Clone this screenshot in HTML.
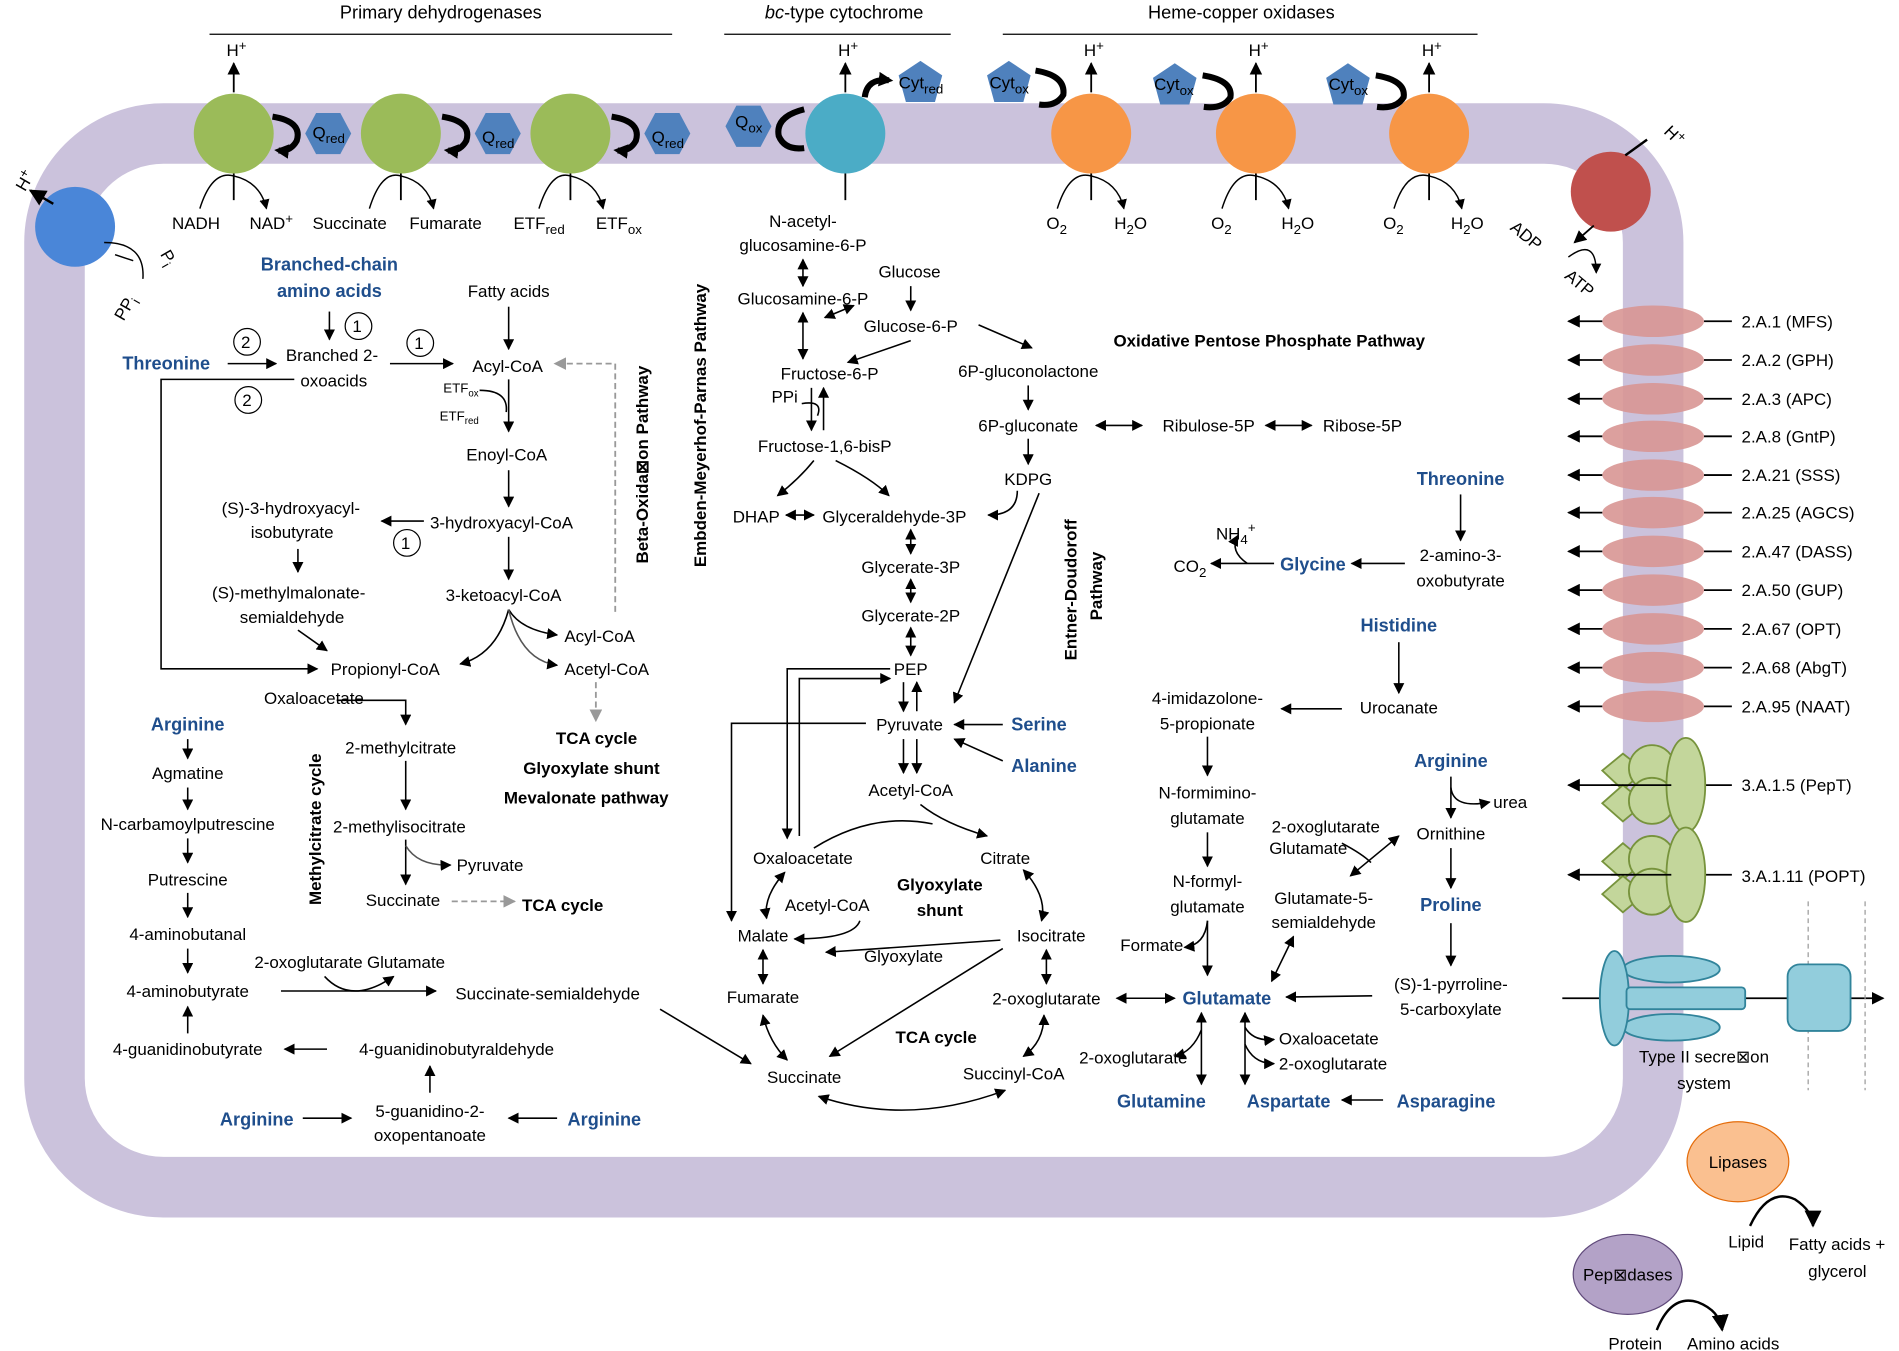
<!DOCTYPE html>
<html><head><meta charset="utf-8"><style>
html,body{margin:0;padding:0;background:#fff}
svg{display:block}
text{font-family:"Liberation Sans",sans-serif;font-size:14px;fill:#000}
.b{font-weight:bold}
.bl{fill:#1f4e8c;font-weight:bold;font-size:15px}
.s{font-size:11px}
.t{font-size:15px}
</style></head><body>
<svg width="1899" height="1351" viewBox="0 0 1568 1115" xmlns="http://www.w3.org/2000/svg">
<defs>
<marker id="a" viewBox="0 0 10 10" refX="9" refY="5" markerWidth="7" markerHeight="7" orient="auto-start-reverse"><path d="M0,0L10,5L0,10z" fill="#000"/></marker>
<marker id="ta" viewBox="0 0 10 10" refX="7" refY="5" markerUnits="userSpaceOnUse" markerWidth="12" markerHeight="12" orient="auto-start-reverse"><path d="M0,0L10,5L0,10z" fill="#000"/></marker>
<marker id="g" viewBox="0 0 10 10" refX="9" refY="5" markerWidth="7" markerHeight="7" orient="auto-start-reverse"><path d="M0,0L10,5L0,10z" fill="#999"/></marker>
</defs>
<!-- membrane -->
<rect x="45" y="110" width="1320" height="870" rx="90" fill="none" stroke="#cbc2dc" stroke-width="50"/>
<!-- header lines -->
<g stroke="#000" stroke-width="1"><line x1="173" y1="28" x2="555" y2="28"/><line x1="598" y1="28" x2="785" y2="28"/><line x1="828" y1="28" x2="1220" y2="28"/></g>
<text x="364" y="15" text-anchor="middle" class="t">Primary dehydrogenases</text>
<text x="697" y="15" text-anchor="middle" class="t"><tspan font-style="italic">bc</tspan>-type cytochrome</text>
<text x="1025" y="15" text-anchor="middle" class="t">Heme-copper oxidases</text>
<g fill="#000" stroke="#000" stroke-width="1.5">
<line x1="193" y1="76" x2="193" y2="52" marker-end="url(#a)"/>
<line x1="698" y1="76" x2="698" y2="52" marker-end="url(#a)"/>
<line x1="901" y1="76" x2="901" y2="52" marker-end="url(#a)"/>
<line x1="1037" y1="76" x2="1037" y2="52" marker-end="url(#a)"/>
<line x1="1180" y1="76" x2="1180" y2="52" marker-end="url(#a)"/>
<line x1="193" y1="143" x2="193" y2="165"/><line x1="331" y1="143" x2="331" y2="165"/><line x1="471" y1="143" x2="471" y2="165"/>
<line x1="698" y1="143" x2="698" y2="165"/><line x1="901" y1="143" x2="901" y2="165"/><line x1="1037" y1="143" x2="1037" y2="165"/><line x1="1180" y1="143" x2="1180" y2="165"/>
</g>
<!-- enzymes -->
<circle cx="193" cy="110" r="33" fill="#9bbb59"/><circle cx="331" cy="110" r="33" fill="#9bbb59"/><circle cx="471" cy="110" r="33" fill="#9bbb59"/>
<circle cx="698" cy="110" r="33" fill="#4bacc6"/>
<circle cx="901" cy="110" r="33" fill="#f79646"/><circle cx="1037" cy="110" r="33" fill="#f79646"/><circle cx="1180" cy="110" r="33" fill="#f79646"/>
<circle cx="1330" cy="158" r="33" fill="#c0504d"/><line x1="1342" y1="128" x2="1360" y2="115" stroke="#000" stroke-width="2"/>
<circle cx="62" cy="187" r="33" fill="#4a86d8"/>
<g fill="#4f81bd">
<polygon points="252,110 261,93 281,93 290,110 281,127 261,127"/>
<polygon points="392,110 401,93 421,93 430,110 421,127 401,127"/>
<polygon points="532,110 541,93 561,93 570,110 561,127 541,127"/>
<polygon points="599,104 608,87 628,87 637,104 628,121 608,121"/>
<polygon points="760,50 778,62 772,84 748,84 742,62"/>
<polygon points="833,50 851,62 845,84 821,84 815,62"/>
<polygon points="970,52 988,64 982,86 958,86 952,64"/>
<polygon points="1113,52 1131,64 1125,86 1101,86 1095,64"/>
</g>
<g font-size="13"><text x="258" y="114">Q<tspan class="s" dy="4">red</tspan></text><text x="398" y="118">Q<tspan class="s" dy="4">red</tspan></text><text x="538" y="118">Q<tspan class="s" dy="4">red</tspan></text><text x="607" y="105">Q<tspan class="s" dy="4">ox</tspan></text>
<text x="742" y="73">Cyt<tspan class="s" dy="4">red</tspan></text><text x="817" y="73">Cyt<tspan class="s" dy="4">ox</tspan></text><text x="953" y="74">Cyt<tspan class="s" dy="4">ox</tspan></text><text x="1097" y="74">Cyt<tspan class="s" dy="4">ox</tspan></text></g>
<g fill="none" stroke="#000" stroke-width="5">
<path d="M225,96 Q250,100 245,116 Q240,125 230,124" marker-end="url(#ta)"/>
<path d="M365,96 Q390,100 385,116 Q380,125 370,124" marker-end="url(#ta)"/>
<path d="M505,96 Q530,100 525,116 Q520,125 510,124" marker-end="url(#ta)"/>
<path d="M664,90 Q640,96 643,112 Q648,124 664,122"/>
<path d="M714,80 Q716,64 734,66" marker-end="url(#ta)"/>
<path d="M855,58 Q880,62 878,78 Q872,88 858,86"/>
<path d="M993,62 Q1018,66 1016,80 Q1010,90 994,88"/>
<path d="M1136,62 Q1161,66 1159,80 Q1153,90 1137,88"/>
</g>
<g font-size="13"><text x="187" y="46">H<tspan dy="-5" class="s">+</tspan></text><text x="692" y="46">H<tspan dy="-5" class="s">+</tspan></text><text x="895" y="46">H<tspan dy="-5" class="s">+</tspan></text><text x="1031" y="46">H<tspan dy="-5" class="s">+</tspan></text><text x="1174" y="46">H<tspan dy="-5" class="s">+</tspan></text>
<text x="1372" y="112" transform="rotate(45 1376 112)">H<tspan dy="-5" class="s">+</tspan></text>
<text x="10" y="160" transform="rotate(-60 14 150)">H<tspan dy="-5" class="s">+</tspan></text></g>
<line x1="44" y1="168" x2="25" y2="157" stroke="#000" stroke-width="2" marker-end="url(#a)"/>
<g fill="none" stroke="#000" stroke-width="1.2">
<path d="M165,172 Q175,140 193,145 Q215,150 220,172" marker-end="url(#a)"/>
<path d="M305,172 Q315,140 331,145 Q353,150 358,172" marker-end="url(#a)"/>
<path d="M445,172 Q455,140 471,145 Q493,150 498,172" marker-end="url(#a)"/>
<path d="M873,172 Q883,140 901,145 Q923,150 928,172" marker-end="url(#a)"/>
<path d="M1009,172 Q1019,140 1037,145 Q1059,150 1064,172" marker-end="url(#a)"/>
<path d="M1151,172 Q1161,140 1180,145 Q1202,150 1207,172" marker-end="url(#a)"/>
<path d="M86,200 Q120,200 118,230" />
<path d="M1295,212 Q1318,195 1318,225" marker-end="url(#a)"/>
</g>
<line x1="1316" y1="186" x2="1300" y2="200" stroke="#000" stroke-width="1.5" marker-end="url(#a)"/>
<line x1="95" y1="210" x2="110" y2="215" stroke="#000" stroke-width="1.2"/>
<g font-size="13.5">
<text x="142" y="189">NADH</text><text x="206" y="189">NAD<tspan dy="-5" class="s">+</tspan></text>
<text x="258" y="189">Succinate</text><text x="338" y="189">Fumarate</text>
<text x="424" y="189">ETF<tspan class="s" dy="4">red</tspan></text><text x="492" y="189">ETF<tspan class="s" dy="4">ox</tspan></text>
<text x="864" y="189">O<tspan class="s" dy="4">2</tspan></text><text x="920" y="189">H<tspan class="s" dy="4">2</tspan><tspan dy="-4">O</tspan></text>
<text x="1000" y="189">O<tspan class="s" dy="4">2</tspan></text><text x="1058" y="189">H<tspan class="s" dy="4">2</tspan><tspan dy="-4">O</tspan></text>
<text x="1142" y="189">O<tspan class="s" dy="4">2</tspan></text><text x="1198" y="189">H<tspan class="s" dy="4">2</tspan><tspan dy="-4">O</tspan></text>
<text x="1245" y="192" transform="rotate(40 1250 192)">ADP</text>
<text x="1290" y="232" transform="rotate(40 1295 232)">ATP</text>
<text x="130" y="213" transform="rotate(60 134 213)">P<tspan class="s" dy="4">i</tspan></text>
<text x="92" y="262" transform="rotate(-60 100 255)">PP<tspan class="s" dy="4">i</tspan></text>
</g>
<!-- transporters -->
<g fill="#d99694" opacity="0.9">
<ellipse cx="1365" cy="265" rx="42" ry="13"/><ellipse cx="1365" cy="297" rx="42" ry="13"/><ellipse cx="1365" cy="329" rx="42" ry="13"/><ellipse cx="1365" cy="360" rx="42" ry="13"/><ellipse cx="1365" cy="392" rx="42" ry="13"/><ellipse cx="1365" cy="423" rx="42" ry="13"/><ellipse cx="1365" cy="455" rx="42" ry="13"/><ellipse cx="1365" cy="487" rx="42" ry="13"/><ellipse cx="1365" cy="519" rx="42" ry="13"/><ellipse cx="1365" cy="551" rx="42" ry="13"/><ellipse cx="1365" cy="583" rx="42" ry="13"/>
</g>
<g stroke="#000" stroke-width="1.5">
<line x1="1323" y1="265" x2="1295" y2="265" marker-end="url(#a)"/><line x1="1407" y1="265" x2="1430" y2="265"/>
<line x1="1323" y1="297" x2="1295" y2="297" marker-end="url(#a)"/><line x1="1407" y1="297" x2="1430" y2="297"/>
<line x1="1323" y1="329" x2="1295" y2="329" marker-end="url(#a)"/><line x1="1407" y1="329" x2="1430" y2="329"/>
<line x1="1323" y1="360" x2="1295" y2="360" marker-end="url(#a)"/><line x1="1407" y1="360" x2="1430" y2="360"/>
<line x1="1323" y1="392" x2="1295" y2="392" marker-end="url(#a)"/><line x1="1407" y1="392" x2="1430" y2="392"/>
<line x1="1323" y1="423" x2="1295" y2="423" marker-end="url(#a)"/><line x1="1407" y1="423" x2="1430" y2="423"/>
<line x1="1323" y1="455" x2="1295" y2="455" marker-end="url(#a)"/><line x1="1407" y1="455" x2="1430" y2="455"/>
<line x1="1323" y1="487" x2="1295" y2="487" marker-end="url(#a)"/><line x1="1407" y1="487" x2="1430" y2="487"/>
<line x1="1323" y1="519" x2="1295" y2="519" marker-end="url(#a)"/><line x1="1407" y1="519" x2="1430" y2="519"/>
<line x1="1323" y1="551" x2="1295" y2="551" marker-end="url(#a)"/><line x1="1407" y1="551" x2="1430" y2="551"/>
<line x1="1323" y1="583" x2="1295" y2="583" marker-end="url(#a)"/><line x1="1407" y1="583" x2="1430" y2="583"/>
<line x1="1430" y1="648" x2="1295" y2="648" marker-end="url(#a)"/>
<line x1="1430" y1="722" x2="1295" y2="722" marker-end="url(#a)"/>
<line x1="1290" y1="824" x2="1555" y2="824" marker-end="url(#a)"/>
</g>
<g font-size="14.5"><text x="1438" y="270">2.A.1 (MFS)</text><text x="1438" y="302">2.A.2 (GPH)</text><text x="1438" y="334">2.A.3 (APC)</text><text x="1438" y="365">2.A.8 (GntP)</text><text x="1438" y="397">2.A.21 (SSS)</text><text x="1438" y="428">2.A.25 (AGCS)</text><text x="1438" y="460">2.A.47 (DASS)</text><text x="1438" y="492">2.A.50 (GUP)</text><text x="1438" y="524">2.A.67 (OPT)</text><text x="1438" y="556">2.A.68 (AbgT)</text><text x="1438" y="588">2.A.95 (NAAT)</text><text x="1438" y="653">3.A.1.5 (PepT)</text><text x="1438" y="728">3.A.1.11 (POPT)</text></g>
<g fill="#c3d69b" stroke="#77933c" stroke-width="1.5">
<polygon points="1340,622 1358,636 1340,652 1323,636"/><polygon points="1340,648 1358,663 1340,678 1323,663"/>
<circle cx="1364" cy="634" r="19"/><circle cx="1364" cy="661" r="19"/><ellipse cx="1392" cy="648" rx="16" ry="39"/>
<polygon points="1340,696 1358,711 1340,726 1323,711"/><polygon points="1340,723 1358,738 1340,753 1323,738"/>
<circle cx="1364" cy="709" r="19"/><circle cx="1364" cy="736" r="19"/><ellipse cx="1392" cy="722" rx="16" ry="39"/>
</g>
<g stroke="#000" stroke-width="1.5"><line x1="1330" y1="648" x2="1380" y2="648"/><line x1="1330" y1="722" x2="1380" y2="722"/></g>
<g stroke="#999" stroke-dasharray="4,3"><line x1="1493" y1="744" x2="1493" y2="900"/><line x1="1540" y1="744" x2="1540" y2="900"/></g>
<g fill="#92cddc" stroke="#31849b" stroke-width="1.5">
<ellipse cx="1380" cy="800" rx="40" ry="11"/><ellipse cx="1380" cy="848" rx="40" ry="11"/>
<ellipse cx="1333" cy="824" rx="12" ry="39"/>
<rect x="1343" y="815" width="98" height="18" rx="3"/>
<rect x="1476" y="796" width="52" height="55" rx="10"/>
</g>
<text x="1407" y="877" text-anchor="middle" font-size="15">Type II secre⊠on</text><text x="1407" y="899" text-anchor="middle" font-size="15">system</text>
<ellipse cx="1435" cy="959" rx="42" ry="33" fill="#fac090" stroke="#e46c0a"/><text x="1435" y="964" text-anchor="middle" font-size="15">Lipases</text>
<ellipse cx="1344" cy="1052" rx="45" ry="33" fill="#b3a2c7" stroke="#5f497a"/><text x="1344" y="1057" text-anchor="middle" font-size="15">Pep⊠dases</text>
<path d="M1445,1012 Q1460,980 1482,990 Q1497,1000 1497,1012" fill="none" stroke="#000" stroke-width="2" marker-end="url(#a)"/>
<path d="M1368,1098 Q1380,1068 1402,1075 Q1420,1082 1422,1098" fill="none" stroke="#000" stroke-width="2" marker-end="url(#a)"/>
<text x="1427" y="1030" font-size="15">Lipid</text><text x="1477" y="1032" font-size="15">Fatty acids +</text><text x="1493" y="1054" font-size="15">glycerol</text>
<text x="1328" y="1114" font-size="15">Protein</text><text x="1393" y="1114" font-size="15">Amino acids</text>

<!-- ===== Left panel ===== -->
<g font-size="14">
<text x="272" y="223" text-anchor="middle" class="bl">Branched-chain</text><text x="272" y="245" text-anchor="middle" class="bl">amino acids</text>
<text x="420" y="245" text-anchor="middle">Fatty acids</text>
<text x="101" y="305" class="bl">Threonine</text>
<text x="236" y="298">Branched 2-</text><text x="248" y="319">oxoacids</text>
<text x="390" y="307">Acyl-CoA</text>
<text x="366" y="324" class="s">ETF<tspan dy="3" font-size="8">ox</tspan></text>
<text x="363" y="347" class="s">ETF<tspan dy="3" font-size="8">red</tspan></text>
<text x="385" y="380">Enoyl-CoA</text>
<text x="183" y="424">(S)-3-hydroxyacyl-</text><text x="207" y="444">isobutyrate</text>
<text x="355" y="436">3-hydroxyacyl-CoA</text>
<text x="175" y="494">(S)-methylmalonate-</text><text x="198" y="514">semialdehyde</text>
<text x="368" y="496">3-ketoacyl-CoA</text>
<text x="466" y="530">Acyl-CoA</text><text x="466" y="557">Acetyl-CoA</text>
<text x="273" y="557">Propionyl-CoA</text>
<text x="218" y="581" font-size="12">Oxaloacetate</text>
<text x="285" y="622">2-methylcitrate</text>
<text x="275" y="687">2-methylisocitrate</text>
<text x="377" y="719" font-size="12">Pyruvate</text>
<text x="302" y="748">Succinate</text><text x="431" y="752" class="b">TCA cycle</text>
<text x="459" y="614" class="b">TCA cycle</text><text x="432" y="639" class="b">Glyoxylate shunt</text><text x="416" y="663" class="b">Mevalonate pathway</text>
<text x="535" y="465" class="b" transform="rotate(-90 535 465)" font-size="14">Beta-Oxida⊠on Pathway</text>
<text x="265" y="747" class="b" transform="rotate(-90 265 747)" font-size="14">Methylcitrate cycle</text>
<text x="155" y="603" text-anchor="middle" class="bl">Arginine</text>
<text x="155" y="643" text-anchor="middle">Agmatine</text>
<text x="155" y="685" text-anchor="middle">N-carbamoylputrescine</text>
<text x="155" y="731" text-anchor="middle">Putrescine</text>
<text x="155" y="776" text-anchor="middle">4-aminobutanal</text>
<text x="155" y="823" text-anchor="middle">4-aminobutyrate</text>
<text x="155" y="871" text-anchor="middle">4-guanidinobutyrate</text>
<text x="377" y="871" text-anchor="middle">4-guanidinobutyraldehyde</text>
<text x="355" y="922" text-anchor="middle">5-guanidino-2-</text><text x="355" y="942" text-anchor="middle">oxopentanoate</text>
<text x="212" y="929" text-anchor="middle" class="bl">Arginine</text><text x="499" y="929" text-anchor="middle" class="bl">Arginine</text>
<text x="376" y="825">Succinate-semialdehyde</text>
<text x="210" y="799" font-size="12">2-oxoglutarate</text><text x="303" y="799" font-size="12">Glutamate</text>
</g>
<g fill="none" stroke="#000" stroke-width="1"><circle cx="296" cy="269" r="11"/><circle cx="204" cy="282" r="11"/><circle cx="347" cy="283" r="11"/><circle cx="205" cy="330" r="11"/><circle cx="336" cy="448" r="11"/></g>
<g font-size="14"><text x="291" y="274">1</text><text x="199" y="287">2</text><text x="342" y="288">1</text><text x="200" y="335">2</text><text x="331" y="453">1</text></g>
<g stroke="#000" stroke-width="1.3" fill="none">
<line x1="272" y1="257" x2="272" y2="280" marker-end="url(#a)"/>
<line x1="420" y1="253" x2="420" y2="288" marker-end="url(#a)"/>
<line x1="188" y1="300" x2="228" y2="300" marker-end="url(#a)"/>
<line x1="322" y1="300" x2="374" y2="300" marker-end="url(#a)"/>
<path d="M243,313 L133,313 L133,552 L262,552" marker-end="url(#a)"/>
<line x1="420" y1="313" x2="420" y2="356" marker-end="url(#a)"/>
<path d="M396,322 Q420,322 418,340" />
<line x1="420" y1="388" x2="420" y2="418" marker-end="url(#a)"/>
<line x1="350" y1="430" x2="315" y2="430" marker-end="url(#a)"/>
<line x1="420" y1="443" x2="420" y2="478" marker-end="url(#a)"/>
<line x1="246" y1="453" x2="246" y2="472" marker-end="url(#a)"/>
<line x1="246" y1="520" x2="270" y2="537" marker-end="url(#a)"/>
<path d="M420,503 Q410,540 380,548" marker-end="url(#a)"/>
<path d="M420,503 Q430,520 460,524" marker-end="url(#a)"/>
<path d="M420,503 Q430,545 460,549" marker-end="url(#a)" stroke="#555"/>
<path d="M278,578 L335,578 L335,598" marker-end="url(#a)"/>
<line x1="335" y1="628" x2="335" y2="668" marker-end="url(#a)"/>
<line x1="335" y1="693" x2="335" y2="730" marker-end="url(#a)"/>
<path d="M335,698 Q345,715 372,714" marker-end="url(#a)" stroke="#555"/>
<line x1="155" y1="610" x2="155" y2="626" marker-end="url(#a)"/>
<line x1="155" y1="650" x2="155" y2="668" marker-end="url(#a)"/>
<line x1="155" y1="692" x2="155" y2="712" marker-end="url(#a)"/>
<line x1="155" y1="737" x2="155" y2="757" marker-end="url(#a)"/>
<line x1="155" y1="783" x2="155" y2="803" marker-end="url(#a)"/>
<line x1="155" y1="853" x2="155" y2="831" marker-end="url(#a)"/>
<line x1="270" y1="866" x2="235" y2="866" marker-end="url(#a)"/>
<line x1="355" y1="902" x2="355" y2="880" marker-end="url(#a)"/>
<line x1="250" y1="923" x2="290" y2="923" marker-end="url(#a)"/>
<line x1="460" y1="923" x2="420" y2="923" marker-end="url(#a)"/>
<line x1="232" y1="818" x2="360" y2="818" marker-end="url(#a)"/>
<path d="M268,806 Q290,830 325,806" marker-end="url(#a)"/>
<line x1="545" y1="833" x2="620" y2="878" marker-end="url(#a)"/>
</g>
<g stroke="#999" stroke-width="1.5" fill="none" stroke-dasharray="5,3">
<path d="M508,505 L508,300 L458,300" marker-end="url(#g)"/>
<line x1="492" y1="563" x2="492" y2="595" marker-end="url(#g)"/>
<line x1="373" y1="744" x2="425" y2="744" marker-end="url(#g)"/>
</g>

<!-- ===== Middle panel ===== -->
<g font-size="14">
<text x="663" y="187" text-anchor="middle">N-acetyl-</text><text x="663" y="207" text-anchor="middle">glucosamine-6-P</text>
<text x="663" y="251" text-anchor="middle">Glucosamine-6-P</text>
<text x="751" y="229" text-anchor="middle">Glucose</text>
<text x="752" y="274" text-anchor="middle">Glucose-6-P</text>
<text x="685" y="313" text-anchor="middle">Fructose-6-P</text>
<text x="637" y="332" font-size="11.5">PPi</text>
<text x="681" y="373" text-anchor="middle">Fructose-1,6-bisP</text>
<text x="605" y="431">DHAP</text><text x="679" y="431">Glyceraldehyde-3P</text>
<text x="752" y="473" text-anchor="middle">Glycerate-3P</text>
<text x="752" y="513" text-anchor="middle">Glycerate-2P</text>
<text x="752" y="557" text-anchor="middle">PEP</text>
<text x="751" y="603" text-anchor="middle">Pyruvate</text>
<text x="835" y="603" class="bl">Serine</text><text x="835" y="637" class="bl">Alanine</text>
<text x="752" y="657" text-anchor="middle">Acetyl-CoA</text>
<text x="663" y="713" text-anchor="middle">Oxaloacetate</text>
<text x="830" y="713" text-anchor="middle">Citrate</text>
<text x="776" y="735" text-anchor="middle" class="b">Glyoxylate</text><text x="776" y="756" text-anchor="middle" class="b">shunt</text>
<text x="683" y="752" text-anchor="middle" font-size="12">Acetyl-CoA</text>
<text x="630" y="777" text-anchor="middle">Malate</text>
<text x="868" y="777" text-anchor="middle">Isocitrate</text>
<text x="746" y="794" text-anchor="middle">Glyoxylate</text>
<text x="630" y="828" text-anchor="middle">Fumarate</text>
<text x="864" y="829" text-anchor="middle">2-oxoglutarate</text>
<text x="773" y="861" text-anchor="middle" class="b">TCA cycle</text>
<text x="664" y="894" text-anchor="middle">Succinate</text>
<text x="837" y="891" text-anchor="middle">Succinyl-CoA</text>
<text x="1048" y="286" text-anchor="middle" class="b" font-size="15">Oxidative Pentose Phosphate Pathway</text>
<text x="849" y="311" text-anchor="middle">6P-gluconolactone</text>
<text x="849" y="356" text-anchor="middle">6P-gluconate</text>
<text x="998" y="356" text-anchor="middle">Ribulose-5P</text>
<text x="1125" y="356" text-anchor="middle">Ribose-5P</text>
<text x="849" y="400" text-anchor="middle">KDPG</text>
<text x="583" y="468" class="b" transform="rotate(-90 583 468)">Embden-Meyerhof-Parnas Pathway</text>
<text x="889" y="545" class="b" transform="rotate(-90 889 545)">Entner-Doudoroff</text>
<text x="910" y="512" class="b" transform="rotate(-90 910 512)">Pathway</text>
</g>
<g stroke="#000" stroke-width="1.3" fill="none">
<line x1="663" y1="214" x2="663" y2="236" marker-end="url(#a)" marker-start="url(#a)"/>
<line x1="663" y1="258" x2="663" y2="296" marker-end="url(#a)" marker-start="url(#a)"/>
<line x1="681" y1="262" x2="705" y2="252" marker-end="url(#a)" marker-start="url(#a)"/>
<line x1="752" y1="236" x2="752" y2="256" marker-end="url(#a)"/>
<line x1="752" y1="281" x2="700" y2="299" marker-end="url(#a)"/>
<line x1="808" y1="268" x2="852" y2="287" marker-end="url(#a)"/>
<line x1="670" y1="320" x2="670" y2="355" marker-end="url(#a)"/>
<line x1="680" y1="355" x2="680" y2="320" marker-end="url(#a)"/>
<path d="M662,333 Q680,330 675,343" />
<line x1="849" y1="318" x2="849" y2="338" marker-end="url(#a)"/>
<line x1="905" y1="351" x2="943" y2="351" marker-end="url(#a)" marker-start="url(#a)"/>
<line x1="1045" y1="351" x2="1083" y2="351" marker-end="url(#a)" marker-start="url(#a)"/>
<line x1="849" y1="362" x2="849" y2="383" marker-end="url(#a)"/>
<path d="M672,380 Q660,395 642,409" marker-end="url(#a)"/>
<path d="M690,380 Q720,395 734,409" marker-end="url(#a)"/>
<line x1="649" y1="425" x2="672" y2="425" marker-end="url(#a)" marker-start="url(#a)"/>
<path d="M840,405 Q840,425 816,425" marker-end="url(#a)"/>
<line x1="752" y1="437" x2="752" y2="457" marker-end="url(#a)" marker-start="url(#a)"/>
<line x1="752" y1="478" x2="752" y2="497" marker-end="url(#a)" marker-start="url(#a)"/>
<line x1="752" y1="518" x2="752" y2="541" marker-end="url(#a)" marker-start="url(#a)"/>
<line x1="858" y1="407" x2="788" y2="580" marker-end="url(#a)"/>
<line x1="746" y1="563" x2="746" y2="587" marker-end="url(#a)"/>
<line x1="757" y1="587" x2="757" y2="563" marker-end="url(#a)"/>
<line x1="828" y1="598" x2="788" y2="598" marker-end="url(#a)"/>
<path d="M828,628 L788,610" marker-end="url(#a)"/>
<line x1="746" y1="610" x2="746" y2="638" marker-end="url(#a)"/>
<line x1="757" y1="610" x2="757" y2="638" marker-end="url(#a)"/>
<path d="M735,552 L650,552 L650,692" marker-end="url(#a)"/>
<path d="M660,690 L660,560 L735,560" marker-end="url(#a)"/>
<path d="M715,597 L604,597 L604,760" marker-end="url(#a)"/>
<path d="M760,664 Q780,680 815,690" marker-end="url(#a)"/>
<path d="M672,700 Q720,670 770,680"/>
<path d="M845,718 Q865,740 860,760" marker-end="url(#a)" marker-start="url(#a)"/>
<path d="M648,720 Q630,740 633,758" marker-end="url(#a)" marker-start="url(#a)"/>
<line x1="630" y1="784" x2="630" y2="812" marker-end="url(#a)" marker-start="url(#a)"/>
<line x1="864" y1="784" x2="864" y2="812" marker-end="url(#a)" marker-start="url(#a)"/>
<line x1="826" y1="776" x2="682" y2="786" marker-end="url(#a)"/>
<path d="M710,760 Q705,775 656,775" marker-end="url(#a)"/>
<line x1="828" y1="783" x2="685" y2="872" marker-end="url(#a)"/>
<path d="M630,838 Q635,860 650,875" marker-end="url(#a)" marker-start="url(#a)"/>
<path d="M862,838 Q862,860 845,872" marker-end="url(#a)" marker-start="url(#a)"/>
<path d="M676,905 Q750,930 830,900" marker-end="url(#a)" marker-start="url(#a)"/>
</g>

<!-- ===== Right panel ===== -->
<g font-size="14">
<text x="1206" y="400" text-anchor="middle" class="bl">Threonine</text>
<text x="1206" y="463" text-anchor="middle">2-amino-3-</text><text x="1206" y="484" text-anchor="middle">oxobutyrate</text>
<text x="1057" y="471" class="bl">Glycine</text>
<text x="969" y="472">CO<tspan class="s" dy="4">2</tspan></text>
<text x="1004" y="445">NH<tspan class="s" dy="4">4</tspan><tspan class="s" dy="-10">+</tspan></text>
<text x="1155" y="521" text-anchor="middle" class="bl">Histidine</text>
<text x="1155" y="589" text-anchor="middle">Urocanate</text>
<text x="997" y="581" text-anchor="middle">4-imidazolone-</text><text x="997" y="602" text-anchor="middle">5-propionate</text>
<text x="997" y="659" text-anchor="middle">N-formimino-</text><text x="997" y="680" text-anchor="middle">glutamate</text>
<text x="997" y="732" text-anchor="middle">N-formyl-</text><text x="997" y="753" text-anchor="middle">glutamate</text>
<text x="925" y="785" font-size="12">Formate</text>
<text x="1013" y="829" class="bl" text-anchor="middle">Glutamate</text>
<text x="1198" y="633" text-anchor="middle" class="bl">Arginine</text>
<text x="1233" y="667" font-size="12">urea</text>
<text x="1198" y="693" text-anchor="middle">Ornithine</text>
<text x="1050" y="687" font-size="12">2-oxoglutarate</text><text x="1048" y="705" font-size="12">Glutamate</text>
<text x="1093" y="746" text-anchor="middle">Glutamate-5-</text><text x="1093" y="766" text-anchor="middle">semialdehyde</text>
<text x="1198" y="752" text-anchor="middle" class="bl">Proline</text>
<text x="1198" y="817" text-anchor="middle">(S)-1-pyrroline-</text><text x="1198" y="838" text-anchor="middle">5-carboxylate</text>
<text x="891" y="878" font-size="12">2-oxoglutarate</text>
<text x="1056" y="862" font-size="12">Oxaloacetate</text><text x="1056" y="883" font-size="12">2-oxoglutarate</text>
<text x="959" y="914" text-anchor="middle" class="bl">Glutamine</text>
<text x="1064" y="914" text-anchor="middle" class="bl">Aspartate</text>
<text x="1194" y="914" text-anchor="middle" class="bl">Asparagine</text>
</g>
<g stroke="#000" stroke-width="1.3" fill="none">
<line x1="1206" y1="408" x2="1206" y2="446" marker-end="url(#a)"/>
<line x1="1160" y1="465" x2="1116" y2="465" marker-end="url(#a)"/>
<line x1="1052" y1="465" x2="1000" y2="465" marker-end="url(#a)"/>
<path d="M1030,465 Q1015,455 1022,442" marker-end="url(#a)"/>
<line x1="1155" y1="530" x2="1155" y2="572" marker-end="url(#a)"/>
<line x1="1108" y1="585" x2="1058" y2="585" marker-end="url(#a)"/>
<line x1="997" y1="608" x2="997" y2="640" marker-end="url(#a)"/>
<line x1="997" y1="687" x2="997" y2="715" marker-end="url(#a)"/>
<line x1="997" y1="760" x2="997" y2="805" marker-end="url(#a)"/>
<path d="M997,760 Q995,780 978,782" marker-end="url(#a)"/>
<line x1="1198" y1="641" x2="1198" y2="675" marker-end="url(#a)"/>
<path d="M1198,650 Q1200,668 1230,662" marker-end="url(#a)"/>
<line x1="1198" y1="700" x2="1198" y2="733" marker-end="url(#a)"/>
<line x1="1198" y1="762" x2="1198" y2="797" marker-end="url(#a)"/>
<line x1="1155" y1="690" x2="1115" y2="723" marker-end="url(#a)" marker-start="url(#a)"/>
<path d="M1108,696 Q1125,705 1132,712"/>
<line x1="1133" y1="822" x2="1062" y2="823" marker-end="url(#a)"/>
<line x1="1068" y1="773" x2="1050" y2="810" marker-end="url(#a)" marker-start="url(#a)"/>
<line x1="922" y1="824" x2="970" y2="824" marker-end="url(#a)" marker-start="url(#a)"/>
<line x1="992" y1="836" x2="992" y2="895" marker-end="url(#a)" marker-start="url(#a)"/>
<path d="M992,850 Q985,868 970,872" marker-end="url(#a)"/>
<line x1="1028" y1="836" x2="1028" y2="895" marker-end="url(#a)" marker-start="url(#a)"/>
<path d="M1028,848 Q1035,860 1052,858" marker-end="url(#a)"/>
<path d="M1028,862 Q1035,878 1052,878" marker-end="url(#a)"/>
<line x1="1142" y1="908" x2="1108" y2="908" marker-end="url(#a)"/>
</g>
</svg>
</body></html>
